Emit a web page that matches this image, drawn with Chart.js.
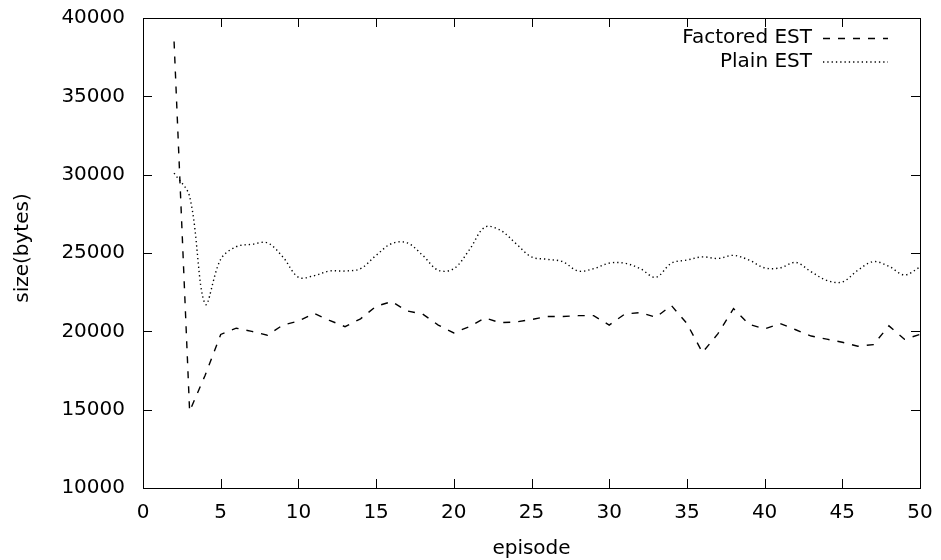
<!DOCTYPE html>
<html>
<head>
<meta charset="utf-8">
<script src="https://cdn.jsdelivr.net/npm/chart.js@4.4.1/dist/chart.umd.min.js"></script>
<style>
  html, body { margin: 0; padding: 0; background: #fff; }
  #wrap { width: 941px; height: 560px; }
</style>
</head>
<body>
<div id="wrap"><canvas id="myChart"></canvas></div>
<script>
// data
const episodes = [2,3,4,5,6,7,8,9,10,11,12,13,14,15,16,17,18,19,20,21,22,23,24,25,26,
  27,28,29,30,31,32,33,34,35,36,37,38,39,40,41,42,43,44,45,46,47,48,49,50];
const factored = [38500,14900,17200,19800,20200,20000,19750,20400,20650,21150,20700,20300,20800,21600,21900,21300,
  21100,20400,19900,20300,20850,20550,20600,20750,20950,20950,21000,21000,20400,21100,21200,20900,
  21650,20500,18650,19850,21450,20450,20150,20500,20100,19700,19500,19300,19050,19150,20350,19500,19800];
const plain = [30100,28600,21750,24600,25400,25550,25650,24750,23450,23550,23850,23850,24000,24850,25600,25650,
  24850,23900,24000,25200,26650,26450,25600,24750,24600,24450,23850,24000,24350,24350,24000,23450,
  24350,24550,24750,24650,24850,24550,24050,24050,24400,23800,23250,23150,23900,24450,24150,23600,24100];
const xTicks = [0,5,10,15,20,25,30,35,40,45,50];
const yTicks = [10000,15000,20000,25000,30000,35000,40000];

const FONT = '"DejaVu Sans"';
const FS = 20;
const ctx = document.getElementById('myChart');

// box + inward ticks on all four sides, axis titles and gnuplot style key
const frame = {
  id: 'frame',
  afterDraw(chart) {
    const c = chart.ctx, a = chart.chartArea;
    const sx = chart.scales.x, sy = chart.scales.y;
    c.save();
    c.strokeStyle = '#000';
    c.lineWidth = 1;
    c.setLineDash([]);
    c.beginPath();
    xTicks.forEach(v => {
      const px = Math.round(sx.getPixelForValue(v)) + 0.5;
      c.moveTo(px, a.bottom); c.lineTo(px, a.bottom - 9);
      c.moveTo(px, a.top); c.lineTo(px, a.top + 9);
    });
    yTicks.forEach(v => {
      const py = Math.round(sy.getPixelForValue(v)) + 0.5;
      c.moveTo(a.left, py); c.lineTo(a.left + 9, py);
      c.moveTo(a.right, py); c.lineTo(a.right - 9, py);
    });
    c.stroke();
    c.strokeRect(Math.round(a.left) + 0.5, Math.round(a.top) + 0.5,
      Math.round(a.right - a.left), Math.round(a.bottom - a.top));

    c.font = FS + 'px ' + FONT;
    c.fillStyle = '#000';
    c.textBaseline = 'middle';

    // axis titles
    c.textAlign = 'center';
    c.fillText('episode', (a.left + a.right) / 2, 549);
    c.save();
    c.translate(23, 248);
    c.rotate(-Math.PI / 2);
    c.fillText('size(bytes)', 0, 0);
    c.restore();

    // key
    c.textAlign = 'right';
    chart.data.datasets.forEach((ds, i) => {
      const y = 38 + i * 23.5;
      c.fillText(ds.label, 812, y);
      c.beginPath();
      c.setLineDash(ds.borderDash);
      c.lineWidth = ds.borderWidth;
      c.moveTo(823, y + 0.5); c.lineTo(888, y + 0.5);
      c.stroke();
    });
    c.restore();
  }
};

new Chart(ctx, {
  type: 'line',
  data: {
    datasets: [{
        label: 'Factored EST',
        data: episodes.map((e, i) => ({ x: e, y: factored[i] })),
        borderColor: '#000',
        borderWidth: 1.4,
        borderDash: [7, 8],
        pointRadius: 0,
        tension: 0,
        fill: false
      },
      {
        label: 'Plain EST',
        data: episodes.map((e, i) => ({ x: e, y: plain[i] })),
        borderColor: '#000',
        borderWidth: 1.4,
        borderDash: [1.3, 3],
        pointRadius: 0,
        tension: 0.35,
        fill: false
      }]
  },
  options: {
    responsive: true,
    maintainAspectRatio: false,
    animation: false,
    events: [],
    layout: { padding: { top: 18, right: 21, left: 0, bottom: 0 } },
    plugins: { legend: { display: false }, tooltip: { enabled: false } },
    scales: {
      x: {
        type: 'linear',
        min: 0, max: 50,
        afterBuildTicks: s => { s.ticks = xTicks.map(v => ({ value: v })); },
        afterFit: s => { s.height = 72; s.paddingLeft = 0; s.paddingRight = 0; },
        grid: { display: false, drawTicks: false },
        border: { display: false },
        ticks: { color: '#000', padding: 13, maxRotation: 0, font: { family: FONT, size: FS } },
        title: { display: false }
      },
      y: {
        min: 10000, max: 40000,
        afterBuildTicks: s => { s.ticks = yTicks.map(v => ({ value: v })); },
        afterFit: s => { s.width = 143; s.paddingTop = 0; s.paddingBottom = 0; },
        grid: { display: false, drawTicks: false },
        border: { display: false },
        ticks: { color: '#000', padding: 18, font: { family: FONT, size: FS },
          callback: v => String(v) },
        title: { display: false }
      }
    }
  },
  plugins: [frame]
});
</script>
</body>
</html>
